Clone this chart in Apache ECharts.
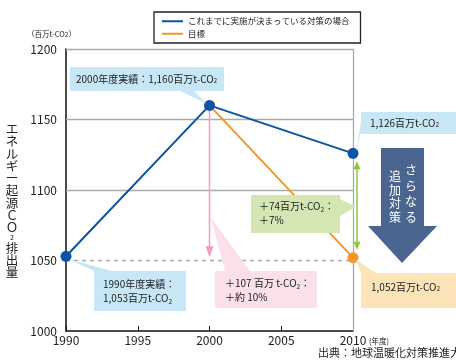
<!DOCTYPE html>
<html>
<head>
<meta charset="utf-8">
<script src="https://cdn.jsdelivr.net/npm/echarts@6/dist/echarts.min.js"></script>
<style>
  html, body { margin: 0; padding: 0; background: #fff; }
  #c { width: 456px; height: 360px; }
</style>
</head>
<body>
<div id="c"></div>
<script>
// Fiscal years and emissions (million t-CO2)
const years = [1990, 2000, 2010];
const currentMeasures = [1053, 1160, 1126];   // measures already decided
const targetPath = [null, 1160, 1052];        // target path from 2000
const seriesNames = ['これまでに実施が決まっている対策の場合', '目標'];
const yMin = 1000, yMax = 1200, yStep = 50;
const xMin = 1990, xMax = 2010, xStep = 5;
const gridLevels = [1100, 1150, 1200];
const dashedLevel = 1050;

const FONT = '"Noto Sans CJK JP", "Noto Sans", sans-serif';
const BLUE = '#0b53a5';
const ORANGE = '#f5962a';
const TEXT = '#222';

const chart = echarts.init(document.getElementById('c'), null, { renderer: 'canvas' });

const blueData = years.map((y, i) => [y, currentMeasures[i]]);
const orangeData = [];
years.forEach((y, i) => {
  if (targetPath[i] == null) return;
  const first = orangeData.length === 0;
  orangeData.push(first ? { value: [y, targetPath[i]], symbol: 'none' } : { value: [y, targetPath[i]] });
});

chart.setOption({
  animation: false,
  textStyle: { fontFamily: FONT },
  grid: { left: 66, right: 103, top: 49, bottom: 29 },
  legend: {
    orient: 'vertical',
    left: 154, top: 12,
    padding: [5, 11, 5, 8],
    itemGap: 4,
    itemWidth: 21, itemHeight: 2,
    icon: 'rect',
    borderColor: '#222', borderWidth: 1.3,
    textStyle: { fontSize: 8.5, color: TEXT, fontFamily: FONT },
    data: seriesNames
  },
  xAxis: {
    type: 'value', min: xMin, max: xMax, interval: xStep,
    axisLine: { lineStyle: { color: '#111', width: 1.5 } },
    axisTick: { show: true, inside: true, length: 5, lineStyle: { color: '#111' } },
    axisLabel: { fontSize: 12, color: TEXT, margin: 3, fontFamily: FONT, formatter: v => String(v) },
    splitLine: { show: false }
  },
  yAxis: {
    type: 'value', min: yMin, max: yMax, interval: yStep,
    axisLine: { show: true, lineStyle: { color: '#111', width: 1.5 } },
    axisTick: { show: false },
    axisLabel: { fontSize: 12, color: TEXT, margin: 9, fontFamily: FONT, formatter: v => String(v) },
    splitLine: { show: false }
  },
  series: [
    {
      name: seriesNames[1], type: 'line', z: 3,
      data: orangeData,
      symbol: 'circle', symbolSize: 11,
      lineStyle: { color: ORANGE, width: 2 },
      itemStyle: { color: ORANGE }
    },
    {
      name: seriesNames[0], type: 'line', z: 4,
      data: blueData,
      symbol: 'circle', symbolSize: 11,
      lineStyle: { color: BLUE, width: 2 },
      itemStyle: { color: BLUE },
      markLine: {
        silent: true, symbol: 'none', z: 1,
        label: { show: false },
        lineStyle: { color: '#aaa', width: 1.3, type: 'solid' },
        data: gridLevels.map(v => ({ yAxis: v }))
          .concat([{ yAxis: dashedLevel, lineStyle: { type: [4, 4], color: '#aaa' } }, { xAxis: xMax }])
      }
    }
  ]
});

const p = (x, y) => chart.convertToPixel({ gridIndex: 0 }, [x, y]);

function box(x, y, w, h, fill) {
  return { type: 'rect', shape: { x, y, width: w, height: h }, style: { fill }, z: 10, silent: true };
}
function poly(points, fill) {
  return { type: 'polygon', shape: { points }, style: { fill }, z: 10, silent: true };
}
function label(x, y, text, size, opts) {
  return {
    type: 'text', x, y, z: 11, silent: true,
    style: Object.assign({
      text, fontSize: size || 10, fill: TEXT, fontFamily: FONT,
      verticalAlign: 'middle', align: 'left',
      rich: { s: { fontSize: 6.5, fill: TEXT, fontFamily: FONT, verticalAlign: 'bottom' } }
    }, opts || {})
  };
}

const pt90 = p(1990, currentMeasures[0]);
const pt00 = p(2000, currentMeasures[1]);
const pt10 = p(2010, currentMeasures[2]);
const pt10t = p(2010, targetPath[2]);
const base00 = p(2000, currentMeasures[0]);

const LBLUE = '#c7e7f7', PINK = '#fbe0ec', GREEN = '#d4e7b3', LORANGE = '#fde3b8';
const g = [];

// 2000 actual
g.push(box(70, 67, 154, 24, LBLUE));
g.push(poly([[180, 91], [194, 91], [pt00[0] - 3, pt00[1] - 2]], LBLUE));
g.push(label(76, 79, '2000年度実績：1,160百万t-CO{s|2}', 10));

// 2010, current measures
g.push(box(361, 112, 95, 22, LBLUE));
g.push(poly([[361, 122], [361, 132], [pt10[0] + 3, pt10[1] - 2]], LBLUE));
g.push(label(370, 123, '1,126百万t-CO{s|2}', 10));

// 1990 actual
g.push(box(94, 271, 92, 40, LBLUE));
g.push(poly([[94, 271], [112, 271], [pt90[0] + 3, pt90[1] + 3]], LBLUE));
g.push(label(103, 291, '1990年度実績：\n1,053百万t-CO{s|2}', 10, { lineHeight: 13.5 }));

// pink reduction arrow at 2000
const pinkX = pt00[0];
g.push({ type: 'line', shape: { x1: pinkX, y1: pt00[1] + 5, x2: pinkX, y2: base00[1] - 8 }, style: { stroke: '#f59ac2', lineWidth: 1.5 }, z: 2, silent: true });
g.push(poly([[pinkX - 4, base00[1] - 10], [pinkX + 4, base00[1] - 10], [pinkX, base00[1] + 1]], '#f59ac2'));
g.push(box(215, 271, 102, 37, PINK));
g.push(poly([[225, 271], [250, 271], [pinkX + 1, 217]], PINK));
g.push(label(225, 290, '＋107 百万 t-CO{s|2}：\n＋約 10%', 10, { lineHeight: 13.5 }));

// green gap arrow at 2010
const gx = pt10[0] + 4;
const gTop = pt10[1] + 8, gBot = pt10t[1] - 8;
g.push({ type: 'line', shape: { x1: gx, y1: gTop + 4, x2: gx, y2: gBot - 4 }, style: { stroke: '#8dc63f', lineWidth: 1.5 }, z: 9, silent: true });
g.push(poly([[gx - 3.5, gTop + 8], [gx + 3.5, gTop + 8], [gx, gTop]], '#8dc63f'));
g.push(poly([[gx - 3.5, gBot - 8], [gx + 3.5, gBot - 8], [gx, gBot]], '#8dc63f'));
g.push(box(251, 195, 89, 38, GREEN));
g.push(poly([[340, 199], [340, 216], [gx - 1, 207]], GREEN));
g.push(label(259, 213, '＋74百万t-CO{s|2}：\n＋7%', 10, { lineHeight: 13.5 }));

// 2010 target
g.push(box(361, 273, 95, 35, LORANGE));
g.push(poly([[361, 273], [376, 273], [pt10t[0] + 3, pt10t[1] + 2]], LORANGE));
g.push(label(371, 287, '1,052百万t-CO{s|2}', 10));

// additional measures arrow
g.push(poly([[381, 148], [424, 148], [424, 226], [437, 226], [402, 263], [368, 226], [381, 226]], '#4a6690'));
g.push(label(411, 163, 'さ\nら\nな\nる', 12, { fill: '#fff', align: 'center', verticalAlign: 'top', lineHeight: 15.5 }));
g.push(label(395, 170, '追\n加\n対\n策', 12, { fill: '#fff', align: 'center', verticalAlign: 'top', lineHeight: 13.5 }));

// unit, axis title, fiscal-year note, source
g.push(label(27, 34, '（百万t-CO{s|2}）', 7.5));
g.push({
  type: 'text', x: 12, y: 123, z: 11, silent: true,
  style: {
    text: 'エ\nネ\nル\nギ\nー\n起\n源\nＣ\nＯ\n{s|2}\n排\n出\n量',
    fontSize: 12.5, fill: TEXT, fontFamily: FONT, align: 'center', verticalAlign: 'top', lineHeight: 12.3,
    rich: { s: { fontSize: 7, fill: TEXT, fontFamily: FONT, lineHeight: 8 } }
  }
});
const x10 = p(2010, yMin);
g.push(label(x10[0] + 16, x10[1] + 10, '(年度)', 7.5));
g.push(label(318, 353, '出典：地球温暖化対策推進大綱', 11));

chart.setOption({ graphic: g });
</script>
</body>
</html>
